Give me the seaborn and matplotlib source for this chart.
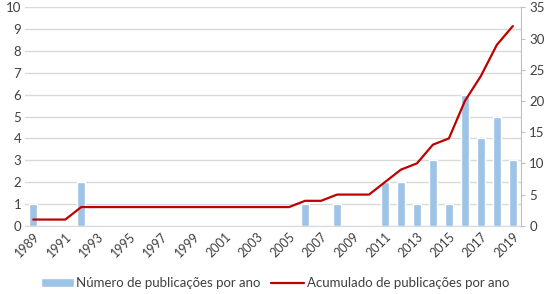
import seaborn as sns
import matplotlib.pyplot as plt
import numpy as np
import pandas as pd

sns.set_style("white")
plt.rcParams['font.family'] = ['Lato', 'DejaVu Sans']

years = list(range(1989, 2020))
publicacoes = [1, 0, 0, 2, 0, 0, 0, 0, 0, 0, 0, 0, 0, 0, 0, 0, 0,
               1, 0, 1, 0, 0, 2, 2, 1, 3, 1, 6, 4, 5, 3]
acumulado = [1, 1, 1, 3, 3, 3, 3, 3, 3, 3, 3, 3, 3, 3, 3, 3, 3,
             4, 4, 5, 5, 5, 7, 9, 10, 13, 14, 20, 24, 29, 32]

df = pd.DataFrame({"Ano": years, "Publicacoes": publicacoes, "Acumulado": acumulado})
df["pos"] = np.arange(len(df))

BAR = "#9DC3E6"
LINE = "#C00000"
TXT = "#404040"

fig, ax = plt.subplots(figsize=(5.5, 2.94), dpi=100)
fig.subplots_adjust(left=0.046, right=0.947, top=0.975, bottom=0.232)

ax.yaxis.grid(True, color="#D9D9D9", lw=1, zorder=0)
ax.set_axisbelow(True)
sns.barplot(data=df, x="pos", y="Publicacoes", color=BAR, width=0.5,
            saturation=1, ax=ax, native_scale=True, zorder=3,
            label="Número de publicações por ano")
ax.set_ylim(0, 10)
ax.set_yticks(range(0, 11))
ax.set_xlim(-0.5, len(df) - 0.5)
ax.set_xlabel("")
ax.set_ylabel("")
ax.set_xticks(df["pos"][::2])
ax.set_xticklabels(df["Ano"][::2], rotation=45, ha="right",
                   rotation_mode="anchor", fontsize=9, color=TXT)
ax.tick_params(axis="y", labelsize=9.5, colors=TXT, length=0, pad=3)
ax.tick_params(axis="x", length=0, pad=3)
for s in ["top", "left", "right"]:
    ax.spines[s].set_visible(False)
ax.spines["bottom"].set_color("#D9D9D9")

ax2 = ax.twinx()
sns.lineplot(data=df, x="pos", y="Acumulado", color=LINE, lw=1.6, ax=ax2,
             label="Acumulado de publicações por ano", legend=False)
ax2.set_ylim(0, 35)
ax2.set_yticks(range(0, 36, 5))
ax2.set_ylabel("")
ax2.tick_params(axis="y", labelsize=9.5, colors=TXT, length=3, color="#BFBFBF", pad=3)
for s in ["top", "left", "bottom"]:
    ax2.spines[s].set_visible(False)
ax2.spines["right"].set_color("#BFBFBF")

h1, l1 = ax.get_legend_handles_labels()
h2, l2 = ax2.get_legend_handles_labels()
if ax.get_legend():
    ax.get_legend().remove()
fig.legend(h1 + h2, l1 + l2, loc="lower center", ncol=2, frameon=False,
           fontsize=9.5, bbox_to_anchor=(0.5, -0.025), handlelength=2.5,
           columnspacing=0.8, handletextpad=0.2, labelcolor=TXT)

fig.savefig("out.png", dpi=100)
